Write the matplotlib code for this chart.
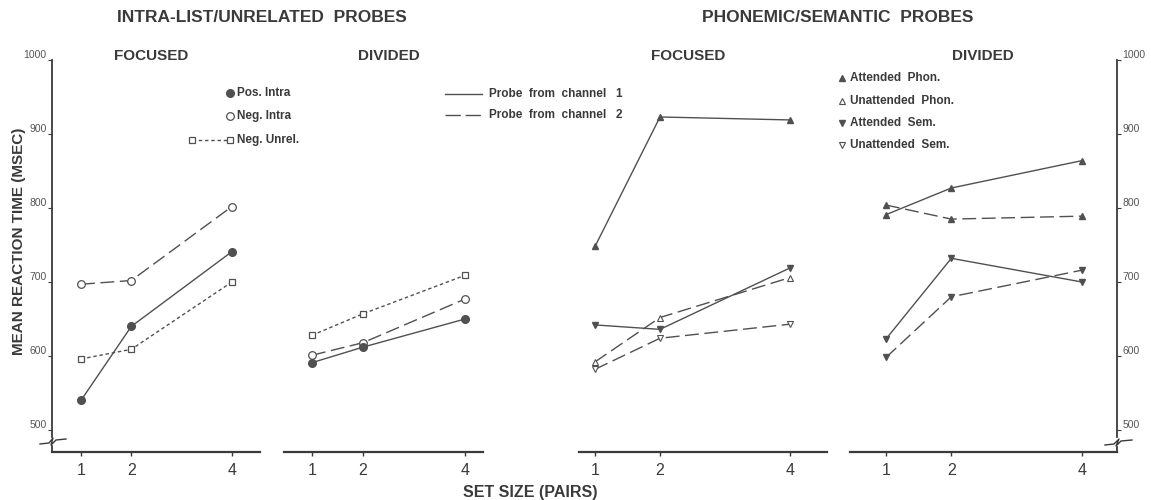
import matplotlib
matplotlib.use("Agg")
import matplotlib.pyplot as plt
from matplotlib.lines import Line2D

plt.rcParams['font.family'] = ['Liberation Sans', 'DejaVu Sans']

# data (mean RT in msec)
set_size = [1, 2, 4]
xtick_labels = ['1', '2', '4']
yticks = [500, 600, 700, 800, 900, 1000]

focused_pos_intra = [540, 640, 741]
focused_neg_intra = [697, 702, 802]
focused_neg_unrel = [596, 609, 700]

divided_pos_intra = [591, 612, 650]
divided_neg_intra = [601, 618, 677]
divided_neg_unrel = [628, 657, 709]

focused_att_phon = [748, 923, 919]
focused_unatt_phon = [592, 652, 706]
focused_att_sem = [642, 636, 719]
focused_unatt_sem = [582, 624, 643]

divided_att_phon = [791, 827, 864]
divided_unatt_phon = [804, 785, 789]
divided_att_sem = [623, 732, 700]
divided_unatt_sem = [598, 680, 716]

W, H = 1151, 500
INK = '#3a3a3a'
LINE = '#505050'


def fx(x):
    return x / W


def fy(y):
    return 1 - y / H


# line / marker styles
solid = dict(color=LINE, lw=1.0, ls='-')
long_dash = dict(color=LINE, lw=1.0, ls=(0, (10, 4)))
short_dash = dict(color=LINE, lw=1.0, ls=(0, (2.5, 2)))

pos_intra = dict(solid, marker='o', ms=5.5, mfc=LINE, mec=LINE)
neg_intra = dict(long_dash, marker='o', ms=5.5, mfc='white', mec=LINE, mew=0.9)
neg_unrel = dict(short_dash, marker='s', ms=4.5, mfc='white', mec=LINE, mew=0.9)

att_phon = dict(solid, marker='^', ms=4.5, mfc=LINE, mec=LINE)
unatt_phon = dict(long_dash, marker='^', ms=5, mfc='white', mec=LINE, mew=0.8)
att_sem = dict(solid, marker='v', ms=4.5, mfc=LINE, mec=LINE)
unatt_sem = dict(long_dash, marker='v', ms=5, mfc='white', mec=LINE, mew=0.8)
unatt_phon_f = dict(long_dash, marker='^', ms=4.5, mfc=LINE, mec=LINE)
unatt_sem_f = dict(long_dash, marker='v', ms=4.5, mfc=LINE, mec=LINE)

fig = plt.figure(figsize=(W / 100, H / 100), dpi=100)

top_px, bot_px = 60, 452
px_per_ms = 0.74
ylo = 1000 - (bot_px - top_px) / px_per_ms

# (left px, right px, pixel of set size 1, px per unit)
boxes = [(52, 260, 81, 50.3), (284, 483, 312, 51.0),
         (579, 827, 595, 65.0), (850, 1117, 886, 65.3)]
axes = []
for l, r, x1, unit in boxes:
    ax = fig.add_axes([fx(l), fy(bot_px), (r - l) / W, (bot_px - top_px) / H])
    ax.set_xlim(1 - (x1 - l) / unit, 1 + (r - x1) / unit)
    ax.set_ylim(ylo, 1000)
    for s in ['top', 'left', 'right']:
        ax.spines[s].set_visible(False)
    ax.spines['bottom'].set_linewidth(1.6)
    ax.spines['bottom'].set_color(INK)
    ax.set_xticks(set_size)
    ax.set_xticklabels(xtick_labels)
    ax.tick_params(axis='x', length=3, width=1, color=INK, labelsize=11.5,
                   labelcolor=INK, pad=5)
    ax.set_yticks([])
    ax.patch.set_alpha(0)
    axes.append(ax)

ax1, ax2, ax3, ax4 = axes

ax1.plot(set_size, focused_neg_unrel, **neg_unrel)
ax1.plot(set_size, focused_neg_intra, **neg_intra)
ax1.plot(set_size, focused_pos_intra, **pos_intra)

ax2.plot(set_size, divided_neg_unrel, **neg_unrel)
ax2.plot(set_size, divided_neg_intra, **neg_intra)
ax2.plot(set_size, divided_pos_intra, **pos_intra)

ax3.plot(set_size, focused_att_phon, **att_phon)
ax3.plot(set_size, focused_unatt_phon, **unatt_phon)
ax3.plot(set_size, focused_att_sem, **att_sem)
ax3.plot(set_size, focused_unatt_sem, **unatt_sem)

ax4.plot(set_size, divided_att_phon, **att_phon)
ax4.plot(set_size, divided_unatt_phon, **unatt_phon_f)
ax4.plot(set_size, divided_att_sem, **att_sem)
ax4.plot(set_size, divided_unatt_sem, **unatt_sem_f)

# vertical axes with broken bottom
for ax, side in [(ax1, 'left'), (ax4, 'right')]:
    sp = ax.spines[side]
    sp.set_visible(True)
    sp.set_bounds(490, 1000)
    sp.set_linewidth(1.3)
    sp.set_color(INK)
    ax.set_yticks(yticks)
    ax.set_yticklabels([str(v) for v in yticks])
    if side == 'right':
        ax.yaxis.tick_right()
    ax.tick_params(axis='y', length=3, width=0.8, color=INK, labelsize=7.5,
                   labelcolor='#555555', pad=1)
    for lab in ax.get_yticklabels():
        lab.set_verticalalignment('bottom')

brk = dict(color=INK, lw=1.0, transform=fig.transFigure)
# left break
fig.add_artist(Line2D([fx(v) for v in [40, 49, 53, 51, 56, 66]],
                      [fy(v) for v in [444, 443, 438, 445, 440, 439]], **brk))
fig.add_artist(Line2D([fx(52), fx(52)], [fy(446), fy(452)], color=INK, lw=1.3,
                      transform=fig.transFigure))
# right break
fig.add_artist(Line2D([fx(v) for v in [1105, 1114, 1119, 1116, 1121, 1132]],
                      [fy(v) for v in [445, 444, 439, 446, 441, 440]], **brk))
fig.add_artist(Line2D([fx(1117), fx(1117)], [fy(447), fy(452)], color=INK, lw=1.3,
                      transform=fig.transFigure))

# titles
title_kw = dict(color=INK, fontweight='bold', va='center')
fig.text(fx(117), fy(18), 'INTRA-LIST/UNRELATED  PROBES', fontsize=12.5, ha='left', **title_kw)
fig.text(fx(702), fy(18), 'PHONEMIC/SEMANTIC  PROBES', fontsize=12.5, ha='left', **title_kw)
for xc, t in [(151, 'FOCUSED'), (389, 'DIVIDED'), (688, 'FOCUSED'), (983, 'DIVIDED')]:
    fig.text(fx(xc), fy(56), t, fontsize=11, ha='center', **title_kw)

fig.text(fx(19), fy(241), 'MEAN REACTION TIME (MSEC)', rotation=90, fontsize=11,
         ha='center', **title_kw)
fig.text(fx(530), fy(492), 'SET SIZE (PAIRS)', fontsize=11.5, ha='center', **title_kw)

# legends drawn by hand like the original
leg_kw = dict(color=INK, fontsize=8.5, fontweight='bold', va='center', ha='left')


def key(xs, y, style, label, tx):
    st = dict(style)
    st.pop('color')
    fig.add_artist(Line2D([fx(v) for v in xs], [fy(y)] * len(xs),
                          color=style['color'], transform=fig.transFigure, **st))
    fig.text(fx(tx), fy(y), label, **leg_kw)


key([230], 93, dict(pos_intra, ls='none'), 'Pos. Intra', 237)
key([230], 116, dict(neg_intra, ls='none'), 'Neg. Intra', 237)
key([192, 230], 140, neg_unrel, 'Neg. Unrel.', 237)

key([445, 482], 94, solid, 'Probe  from  channel   1', 489)
key([445, 482], 115, dict(long_dash, ls=(0, (11, 3.5))), 'Probe  from  channel   2', 489)

key([842], 78, dict(att_phon, ls='none'), 'Attended  Phon.', 850)
key([842], 101, dict(unatt_phon, ls='none'), 'Unattended  Phon.', 850)
key([842], 123, dict(att_sem, ls='none'), 'Attended  Sem.', 850)
key([842], 145, dict(unatt_sem, ls='none'), 'Unattended  Sem.', 850)

fig.savefig('out.png', dpi=100)
